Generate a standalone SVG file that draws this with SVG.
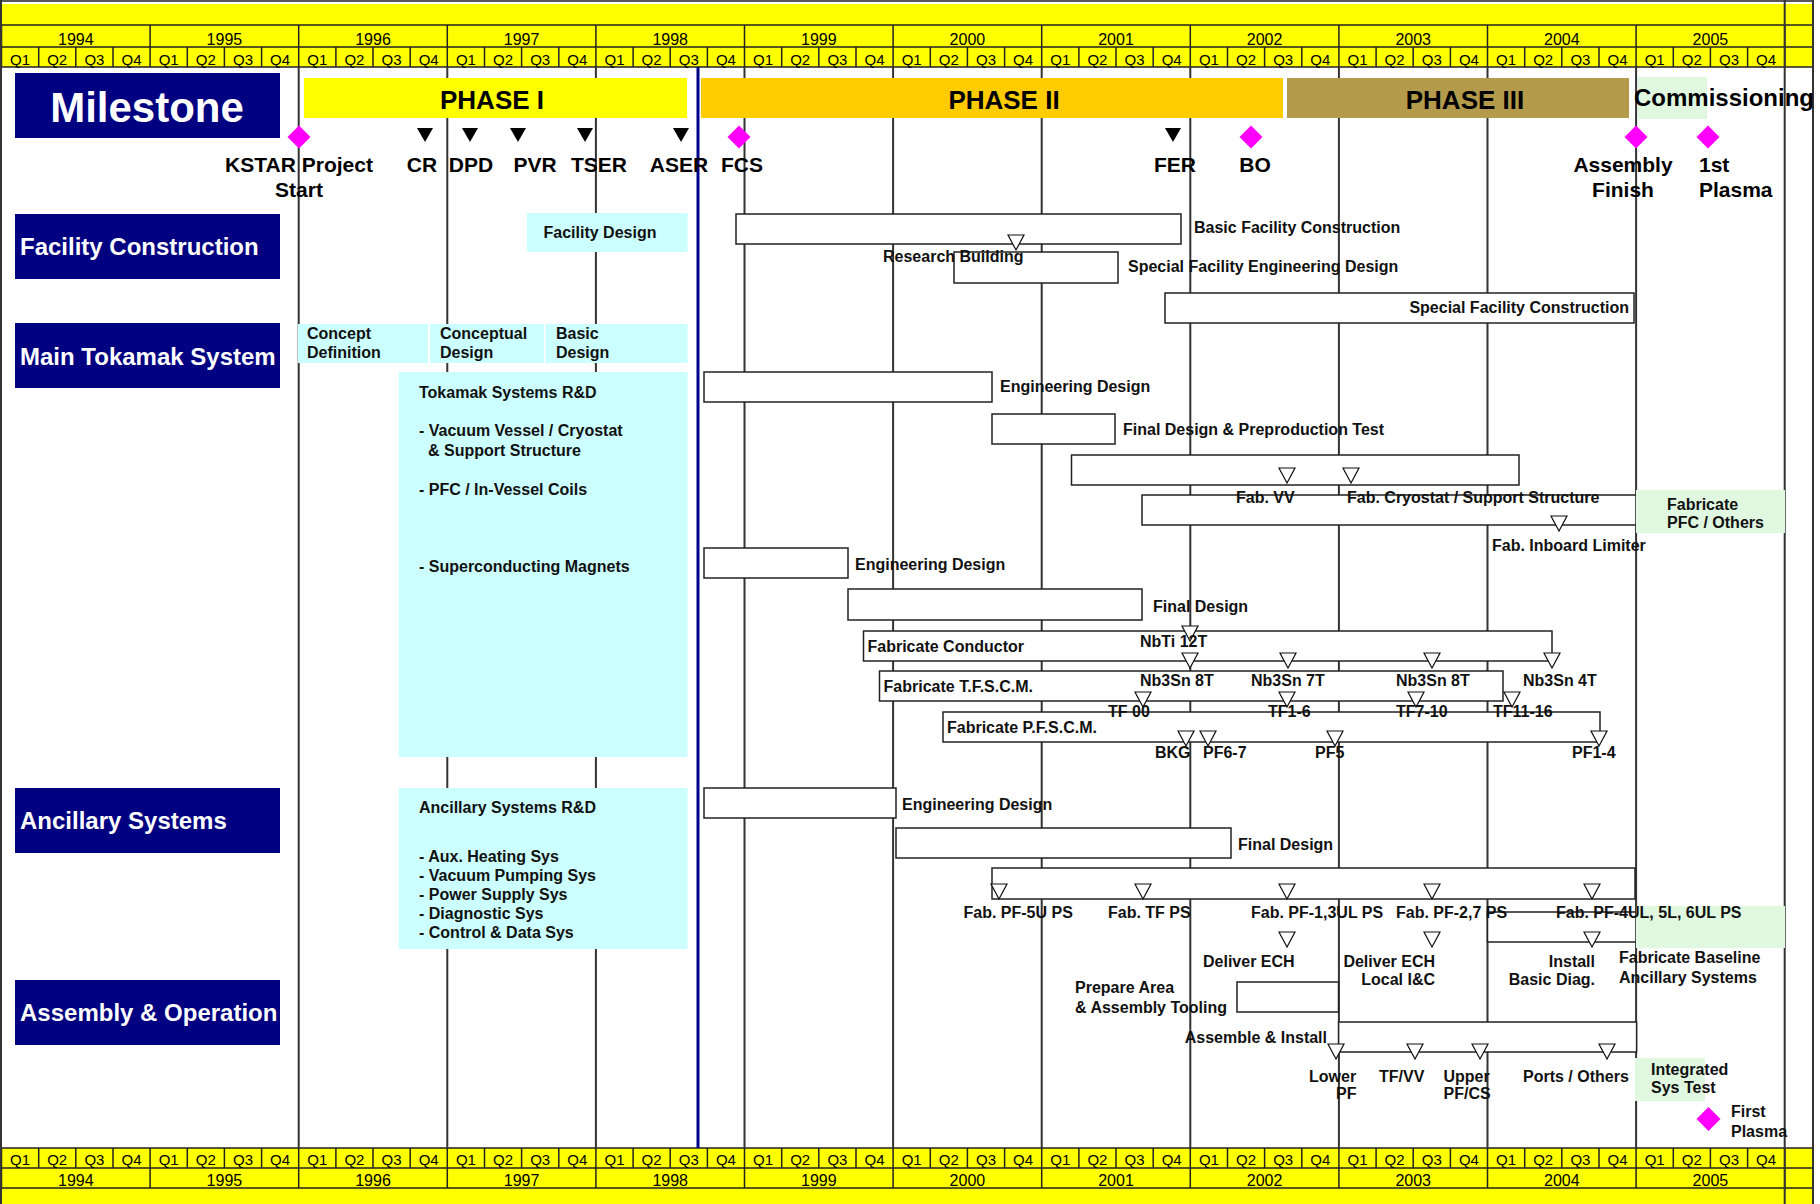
<svg xmlns="http://www.w3.org/2000/svg" width="1820" height="1204" viewBox="0 0 1820 1204">
<style>
text{font-family:"Liberation Sans",Arial,sans-serif;fill:#000}
.hq{font-size:15px;text-anchor:middle}
.hy{font-size:16px;text-anchor:middle}
.l{font-size:16px;font-weight:bold;fill:#111}
.e{text-anchor:end}
.mid{text-anchor:middle}
.ms{font-size:21px;font-weight:bold}
.cat{font-size:24px;font-weight:bold;fill:#fff}
.big{font-size:42px;font-weight:bold;fill:#fff;text-anchor:middle}
.ph{font-size:26px;font-weight:bold;text-anchor:middle}
.bar{fill:#fff;stroke:#222;stroke-width:1.5}
.cy{fill:#CCFFFF}
.gr{fill:#E0F8E0}
.nv{fill:#000080}
.tri{fill:#fff;stroke:#111;stroke-width:1.2}
.hl{stroke:#222;stroke-width:1.5;fill:none}
.grid{stroke:#333;stroke-width:2;fill:none}
</style>
<defs>
<path id="t" d="M-8,0H8L0,15Z" class="tri"/>
<path id="m" d="M-8,0H8L0,14Z" fill="#000"/>
<path id="d" d="M0,-11.5L11.5,0L0,11.5L-11.5,0Z" fill="#FF00FF"/>
</defs>
<rect width="1820" height="1204" fill="#fff"/>

<g id="header-top">
<rect x="0" y="4" width="1813" height="63" fill="#FFFF00"/>
<path class="hl" d="M0,1H1813M0,25H1813M0,47H1813M0,67H1813"/>
<path class="hl" d="M1.5,25v22M150.1,25v22M298.7,25v22M447.3,25v22M595.9,25v22M744.5,25v22M893.1,25v22M1041.7,25v22M1190.3,25v22M1338.9,25v22M1487.5,25v22M1636.1,25v22M1784.7,25v22"/>
<path class="hl" d="M1.5,47v20M38.7,47v20M75.8,47v20M113,47v20M150.1,47v20M187.3,47v20M224.4,47v20M261.6,47v20M298.7,47v20M335.9,47v20M373,47v20M410.2,47v20M447.3,47v20M484.5,47v20M521.6,47v20M558.8,47v20M595.9,47v20M633.1,47v20M670.2,47v20M707.4,47v20M744.5,47v20M781.7,47v20M818.8,47v20M856,47v20M893.1,47v20M930.3,47v20M967.4,47v20M1004.6,47v20M1041.7,47v20M1078.9,47v20M1116,47v20M1153.2,47v20M1190.3,47v20M1227.5,47v20M1264.6,47v20M1301.8,47v20M1338.9,47v20M1376.1,47v20M1413.2,47v20M1450.4,47v20M1487.5,47v20M1524.7,47v20M1561.8,47v20M1599,47v20M1636.1,47v20M1673.3,47v20M1710.4,47v20M1747.6,47v20M1784.7,47v20"/>
<text class="hy" x="75.8" y="45">1994</text><text class="hy" x="224.4" y="45">1995</text><text class="hy" x="373" y="45">1996</text><text class="hy" x="521.6" y="45">1997</text><text class="hy" x="670.2" y="45">1998</text><text class="hy" x="818.8" y="45">1999</text><text class="hy" x="967.4" y="45">2000</text><text class="hy" x="1116" y="45">2001</text><text class="hy" x="1264.6" y="45">2002</text><text class="hy" x="1413.2" y="45">2003</text><text class="hy" x="1561.8" y="45">2004</text><text class="hy" x="1710.4" y="45">2005</text>
<text class="hq" x="20.1" y="65">Q1</text><text class="hq" x="57.2" y="65">Q2</text><text class="hq" x="94.4" y="65">Q3</text><text class="hq" x="131.5" y="65">Q4</text>
<text class="hq" x="168.7" y="65">Q1</text><text class="hq" x="205.8" y="65">Q2</text><text class="hq" x="243" y="65">Q3</text><text class="hq" x="280.1" y="65">Q4</text>
<text class="hq" x="317.3" y="65">Q1</text><text class="hq" x="354.4" y="65">Q2</text><text class="hq" x="391.6" y="65">Q3</text><text class="hq" x="428.7" y="65">Q4</text>
<text class="hq" x="465.9" y="65">Q1</text><text class="hq" x="503" y="65">Q2</text><text class="hq" x="540.2" y="65">Q3</text><text class="hq" x="577.3" y="65">Q4</text>
<text class="hq" x="614.5" y="65">Q1</text><text class="hq" x="651.6" y="65">Q2</text><text class="hq" x="688.8" y="65">Q3</text><text class="hq" x="725.9" y="65">Q4</text>
<text class="hq" x="763.1" y="65">Q1</text><text class="hq" x="800.2" y="65">Q2</text><text class="hq" x="837.4" y="65">Q3</text><text class="hq" x="874.5" y="65">Q4</text>
<text class="hq" x="911.7" y="65">Q1</text><text class="hq" x="948.8" y="65">Q2</text><text class="hq" x="986" y="65">Q3</text><text class="hq" x="1023.1" y="65">Q4</text>
<text class="hq" x="1060.3" y="65">Q1</text><text class="hq" x="1097.4" y="65">Q2</text><text class="hq" x="1134.6" y="65">Q3</text><text class="hq" x="1171.7" y="65">Q4</text>
<text class="hq" x="1208.9" y="65">Q1</text><text class="hq" x="1246" y="65">Q2</text><text class="hq" x="1283.2" y="65">Q3</text><text class="hq" x="1320.3" y="65">Q4</text>
<text class="hq" x="1357.5" y="65">Q1</text><text class="hq" x="1394.6" y="65">Q2</text><text class="hq" x="1431.8" y="65">Q3</text><text class="hq" x="1468.9" y="65">Q4</text>
<text class="hq" x="1506.1" y="65">Q1</text><text class="hq" x="1543.2" y="65">Q2</text><text class="hq" x="1580.4" y="65">Q3</text><text class="hq" x="1617.5" y="65">Q4</text>
<text class="hq" x="1654.7" y="65">Q1</text><text class="hq" x="1691.8" y="65">Q2</text><text class="hq" x="1729" y="65">Q3</text><text class="hq" x="1766.1" y="65">Q4</text>
</g>

<g id="header-bottom">
<rect x="0" y="1148" width="1813" height="56" fill="#FFFF00"/>
<path class="hl" d="M0,1148H1813M0,1168H1813M0,1188H1813"/>
<path class="hl" d="M1.5,1168v20M150.1,1168v20M298.7,1168v20M447.3,1168v20M595.9,1168v20M744.5,1168v20M893.1,1168v20M1041.7,1168v20M1190.3,1168v20M1338.9,1168v20M1487.5,1168v20M1636.1,1168v20M1784.7,1168v20"/>
<path class="hl" d="M1.5,1148v20M38.7,1148v20M75.8,1148v20M113,1148v20M150.1,1148v20M187.3,1148v20M224.4,1148v20M261.6,1148v20M298.7,1148v20M335.9,1148v20M373,1148v20M410.2,1148v20M447.3,1148v20M484.5,1148v20M521.6,1148v20M558.8,1148v20M595.9,1148v20M633.1,1148v20M670.2,1148v20M707.4,1148v20M744.5,1148v20M781.7,1148v20M818.8,1148v20M856,1148v20M893.1,1148v20M930.3,1148v20M967.4,1148v20M1004.6,1148v20M1041.7,1148v20M1078.9,1148v20M1116,1148v20M1153.2,1148v20M1190.3,1148v20M1227.5,1148v20M1264.6,1148v20M1301.8,1148v20M1338.9,1148v20M1376.1,1148v20M1413.2,1148v20M1450.4,1148v20M1487.5,1148v20M1524.7,1148v20M1561.8,1148v20M1599,1148v20M1636.1,1148v20M1673.3,1148v20M1710.4,1148v20M1747.6,1148v20M1784.7,1148v20"/>
<text class="hq" x="20.1" y="1165">Q1</text><text class="hq" x="57.2" y="1165">Q2</text><text class="hq" x="94.4" y="1165">Q3</text><text class="hq" x="131.5" y="1165">Q4</text>
<text class="hq" x="168.7" y="1165">Q1</text><text class="hq" x="205.8" y="1165">Q2</text><text class="hq" x="243" y="1165">Q3</text><text class="hq" x="280.1" y="1165">Q4</text>
<text class="hq" x="317.3" y="1165">Q1</text><text class="hq" x="354.4" y="1165">Q2</text><text class="hq" x="391.6" y="1165">Q3</text><text class="hq" x="428.7" y="1165">Q4</text>
<text class="hq" x="465.9" y="1165">Q1</text><text class="hq" x="503" y="1165">Q2</text><text class="hq" x="540.2" y="1165">Q3</text><text class="hq" x="577.3" y="1165">Q4</text>
<text class="hq" x="614.5" y="1165">Q1</text><text class="hq" x="651.6" y="1165">Q2</text><text class="hq" x="688.8" y="1165">Q3</text><text class="hq" x="725.9" y="1165">Q4</text>
<text class="hq" x="763.1" y="1165">Q1</text><text class="hq" x="800.2" y="1165">Q2</text><text class="hq" x="837.4" y="1165">Q3</text><text class="hq" x="874.5" y="1165">Q4</text>
<text class="hq" x="911.7" y="1165">Q1</text><text class="hq" x="948.8" y="1165">Q2</text><text class="hq" x="986" y="1165">Q3</text><text class="hq" x="1023.1" y="1165">Q4</text>
<text class="hq" x="1060.3" y="1165">Q1</text><text class="hq" x="1097.4" y="1165">Q2</text><text class="hq" x="1134.6" y="1165">Q3</text><text class="hq" x="1171.7" y="1165">Q4</text>
<text class="hq" x="1208.9" y="1165">Q1</text><text class="hq" x="1246" y="1165">Q2</text><text class="hq" x="1283.2" y="1165">Q3</text><text class="hq" x="1320.3" y="1165">Q4</text>
<text class="hq" x="1357.5" y="1165">Q1</text><text class="hq" x="1394.6" y="1165">Q2</text><text class="hq" x="1431.8" y="1165">Q3</text><text class="hq" x="1468.9" y="1165">Q4</text>
<text class="hq" x="1506.1" y="1165">Q1</text><text class="hq" x="1543.2" y="1165">Q2</text><text class="hq" x="1580.4" y="1165">Q3</text><text class="hq" x="1617.5" y="1165">Q4</text>
<text class="hq" x="1654.7" y="1165">Q1</text><text class="hq" x="1691.8" y="1165">Q2</text><text class="hq" x="1729" y="1165">Q3</text><text class="hq" x="1766.1" y="1165">Q4</text>
<text class="hy" x="75.8" y="1186">1994</text><text class="hy" x="224.4" y="1186">1995</text><text class="hy" x="373" y="1186">1996</text><text class="hy" x="521.6" y="1186">1997</text><text class="hy" x="670.2" y="1186">1998</text><text class="hy" x="818.8" y="1186">1999</text><text class="hy" x="967.4" y="1186">2000</text><text class="hy" x="1116" y="1186">2001</text><text class="hy" x="1264.6" y="1186">2002</text><text class="hy" x="1413.2" y="1186">2003</text><text class="hy" x="1561.8" y="1186">2004</text><text class="hy" x="1710.4" y="1186">2005</text>
</g>

<g id="gridlines">
<path class="grid" d="M298.7,67V1148M447.3,67V1148M595.9,67V1148M744.5,67V1148M893.1,67V1148M1041.7,67V1148M1190.3,67V1148M1338.9,67V1148M1487.5,67V1148M1636.1,67V1148M1784.7,0V1204M1,0V1204M1813,0V1204"/>
<path d="M698,67V1148" stroke="#00008B" stroke-width="3"/>
</g>

<g id="cat-milestone"><rect class="nv" x="15" y="73" width="265" height="65"/><text class="big" x="147" y="122">Milestone</text></g>
<g id="cat-facility"><rect class="nv" x="15" y="214" width="265" height="65"/><text class="cat" x="20" y="255">Facility Construction</text></g>
<g id="cat-tokamak"><rect class="nv" x="15" y="323" width="265" height="65"/><text class="cat" x="20" y="365">Main Tokamak System</text></g>
<g id="cat-ancillary"><rect class="nv" x="15" y="788" width="265" height="65"/><text class="cat" x="20" y="829">Ancillary Systems</text></g>
<g id="cat-assembly"><rect class="nv" x="15" y="980" width="265" height="65"/><text class="cat" x="20" y="1021">Assembly &amp; Operation</text></g>

<g id="phase1"><rect x="304" y="78" width="383" height="40" fill="#FFFF00"/><text class="ph" x="492" y="109">PHASE I</text></g>
<g id="phase2"><rect x="701" y="78" width="582" height="40" fill="#FFCC00"/><text class="ph" x="1004" y="109">PHASE II</text></g>
<g id="phase3"><rect x="1287" y="78" width="342" height="40" fill="#B39B4B"/><text class="ph" x="1465" y="109">PHASE III</text></g>
<g id="commissioning"><rect class="gr" x="1638" y="77" width="69" height="42"/><text x="1634" y="106" font-size="24" font-weight="bold">Commissioning</text></g>

<g id="ms-kstar"><use href="#d" x="299" y="137"/><text class="ms mid" x="299" y="172">KSTAR Project</text><text class="ms mid" x="299" y="197">Start</text></g>
<g id="ms-cr"><use href="#m" x="425" y="128"/><text class="ms mid" x="422" y="172">CR</text></g>
<g id="ms-dpd"><use href="#m" x="470" y="128"/><text class="ms mid" x="471" y="172">DPD</text></g>
<g id="ms-pvr"><use href="#m" x="518" y="128"/><text class="ms mid" x="535" y="172">PVR</text></g>
<g id="ms-tser"><use href="#m" x="585" y="128"/><text class="ms mid" x="599" y="172">TSER</text></g>
<g id="ms-aser"><use href="#m" x="681" y="128"/><text class="ms mid" x="679" y="172">ASER</text></g>
<g id="ms-fcs"><use href="#d" x="739" y="137"/><text class="ms mid" x="742" y="172">FCS</text></g>
<g id="ms-fer"><use href="#m" x="1173" y="128"/><text class="ms mid" x="1175" y="172">FER</text></g>
<g id="ms-bo"><use href="#d" x="1251" y="137"/><text class="ms mid" x="1255" y="172">BO</text></g>
<g id="ms-asm"><use href="#d" x="1636" y="137"/><text class="ms mid" x="1623" y="172">Assembly</text><text class="ms mid" x="1623" y="197">Finish</text></g>
<g id="ms-plasma"><use href="#d" x="1708" y="137"/><text class="ms" x="1699" y="172">1st</text><text class="ms" x="1699" y="197">Plasma</text></g>

<g id="facility-design"><rect class="cy" x="527" y="213" width="160.5" height="39"/><text class="l" x="600" y="238" text-anchor="middle">Facility Design</text></g>
<g id="special-fac-eng"><rect class="bar" x="954" y="252" width="164" height="31"/><text class="l" x="1128" y="272">Special Facility Engineering Design</text></g>
<g id="basic-fac"><rect class="bar" x="736" y="214" width="445" height="30"/><use href="#t" x="1016" y="235"/><text class="l" x="1194" y="233">Basic Facility Construction</text><text class="l" x="883" y="262">Research Building</text></g>
<g id="special-fac-con"><rect class="bar" x="1165" y="293" width="469" height="30"/><text class="l e" x="1629" y="313">Special Facility Construction</text></g>

<g id="concept-def"><rect class="cy" x="298" y="324" width="130" height="39"/><text class="l" x="307" y="339">Concept</text><text class="l" x="307" y="358">Definition</text></g>
<g id="conceptual-design"><rect class="cy" x="430" y="324" width="114" height="39"/><text class="l" x="440" y="339">Conceptual</text><text class="l" x="440" y="358">Design</text></g>
<g id="basic-design"><rect class="cy" x="545.5" y="324" width="142" height="39"/><text class="l" x="556" y="339">Basic</text><text class="l" x="556" y="358">Design</text></g>
<g id="tokamak-rd"><rect class="cy" x="398.7" y="372" width="288.8" height="385"/>
<text class="l" x="419" y="398">Tokamak Systems R&amp;D</text>
<text class="l" x="419" y="436">- Vacuum Vessel / Cryostat</text>
<text class="l" x="428" y="456">&amp; Support Structure</text>
<text class="l" x="419" y="495">- PFC / In-Vessel Coils</text>
<text class="l" x="419" y="572">- Superconducting Magnets</text></g>

<g id="vv-eng"><rect class="bar" x="704" y="372" width="288" height="30"/><text class="l" x="1000" y="392">Engineering Design</text></g>
<g id="vv-final"><rect class="bar" x="992" y="414" width="123" height="30"/><text class="l" x="1123" y="435">Final Design &amp; Preproduction Test</text></g>
<g id="fab-cryo"><rect class="bar" x="1142" y="495" width="494" height="30"/><use href="#t" x="1559" y="516"/><text class="l" x="1492" y="551">Fab. Inboard Limiter</text></g>
<g id="fab-vv"><rect class="bar" x="1071.5" y="455" width="447.5" height="30"/><use href="#t" x="1287" y="468"/><use href="#t" x="1351" y="468"/><text class="l" x="1236" y="503">Fab. VV</text><text class="l" x="1347" y="503">Fab. Cryostat / Support Structure</text></g>
<g id="fab-pfc"><rect class="gr" x="1636" y="490" width="149" height="43"/><text class="l" x="1667" y="510">Fabricate</text><text class="l" x="1667" y="528">PFC / Others</text></g>

<g id="sc-eng"><rect class="bar" x="704" y="548" width="144" height="30"/><text class="l" x="855" y="570">Engineering Design</text></g>
<g id="sc-final"><rect class="bar" x="848" y="589" width="294" height="31"/><text class="l" x="1153" y="612">Final Design</text></g>
<g id="fab-pfscm"><rect class="bar" x="943" y="712" width="657" height="30"/><use href="#t" x="1186" y="731"/><use href="#t" x="1208" y="731"/><use href="#t" x="1335" y="731"/><use href="#t" x="1599" y="731"/><text class="l" x="947" y="733">Fabricate P.F.S.C.M.</text><text class="l" x="1155" y="758">BKG</text><text class="l" x="1203" y="758">PF6-7</text><text class="l" x="1315" y="758">PF5</text><text class="l" x="1572" y="758">PF1-4</text></g>
<g id="fab-tfscm"><rect class="bar" x="879.5" y="671" width="623.5" height="30"/><use href="#t" x="1143" y="692"/><use href="#t" x="1287" y="692"/><use href="#t" x="1416" y="692"/><use href="#t" x="1512" y="692"/><text class="l" x="883.6" y="692">Fabricate T.F.S.C.M.</text><text class="l" x="1108" y="717">TF 00</text><text class="l" x="1268" y="717">TF1-6</text><text class="l" x="1396" y="717">TF7-10</text><text class="l" x="1493" y="717">TF11-16</text></g>
<g id="fab-conductor"><rect class="bar" x="863.5" y="631" width="688.5" height="30"/><use href="#t" x="1190" y="626"/><use href="#t" x="1190" y="653"/><use href="#t" x="1288" y="653"/><use href="#t" x="1432" y="653"/><use href="#t" x="1552" y="653"/><text class="l" x="867.5" y="652">Fabricate Conductor</text><text class="l" x="1140" y="647">NbTi 12T</text><text class="l" x="1140" y="686">Nb3Sn 8T</text><text class="l" x="1251" y="686">Nb3Sn 7T</text><text class="l" x="1396" y="686">Nb3Sn 8T</text><text class="l" x="1523" y="686">Nb3Sn 4T</text></g>

<g id="ancillary-rd"><rect class="cy" x="398.7" y="788" width="288.8" height="161"/>
<text class="l" x="419" y="813">Ancillary Systems R&amp;D</text>
<text class="l" x="419" y="862">- Aux. Heating Sys</text>
<text class="l" x="419" y="881">- Vacuum Pumping Sys</text>
<text class="l" x="419" y="900">- Power Supply Sys</text>
<text class="l" x="419" y="919">- Diagnostic Sys</text>
<text class="l" x="419" y="938">- Control &amp; Data Sys</text></g>
<g id="anc-eng"><rect class="bar" x="704" y="788" width="192" height="30"/><text class="l" x="902" y="810">Engineering Design</text></g>
<g id="anc-final"><rect class="bar" x="896" y="828" width="335" height="30"/><text class="l" x="1238" y="850">Final Design</text></g>
<g id="install-diag"><rect class="bar" x="1487.5" y="912" width="148.5" height="30"/><use href="#t" x="1592" y="932"/><text class="l e" x="1595" y="967">Install</text><text class="l e" x="1595" y="985">Basic Diag.</text></g>
<g id="fab-baseline"><rect class="gr" x="1636" y="906" width="149" height="42"/><text class="l" x="1619" y="963">Fabricate Baseline</text><text class="l" x="1619" y="983">Ancillary Systems</text></g>
<g id="fab-ps"><rect class="bar" x="992" y="868" width="643" height="31"/><use href="#t" x="999" y="884"/><use href="#t" x="1143" y="884"/><use href="#t" x="1287" y="884"/><use href="#t" x="1432" y="884"/><use href="#t" x="1592" y="884"/><text class="l" x="963.5" y="918">Fab. PF-5U PS</text><text class="l" x="1108" y="918">Fab. TF PS</text><text class="l" x="1251" y="918">Fab. PF-1,3UL PS</text><text class="l" x="1396" y="918">Fab. PF-2,7 PS</text><text class="l" x="1556" y="918">Fab. PF-4UL, 5L, 6UL PS</text></g>
<g id="deliver-ech"><use href="#t" x="1287" y="932"/><text class="l" x="1203" y="967">Deliver ECH</text></g>
<g id="deliver-ech-ic"><use href="#t" x="1432" y="932"/><text class="l e" x="1435" y="967">Deliver ECH</text><text class="l e" x="1435" y="985">Local I&amp;C</text></g>

<g id="prepare-area"><rect class="bar" x="1237" y="982" width="101.5" height="30"/><text class="l" x="1075" y="993">Prepare Area</text><text class="l" x="1075" y="1013">&amp; Assembly Tooling</text></g>
<g id="assemble-install"><rect class="bar" x="1338.6" y="1022" width="298" height="30"/><use href="#t" x="1336" y="1044"/><use href="#t" x="1415" y="1044"/><use href="#t" x="1480" y="1044"/><use href="#t" x="1607" y="1044"/><text class="l e" x="1327" y="1043">Assemble &amp; Install</text><text class="l" x="1309" y="1082">Lower</text><text class="l" x="1336" y="1099">PF</text><text class="l" x="1379" y="1082">TF/VV</text><text class="l" x="1443.5" y="1082">Upper</text><text class="l" x="1443.5" y="1099">PF/CS</text><text class="l" x="1523" y="1082">Ports / Others</text></g>
<g id="integrated-test"><rect class="gr" x="1635" y="1058" width="70" height="43"/><text class="l" x="1651" y="1075">Integrated</text><text class="l" x="1651" y="1093">Sys Test</text></g>
<g id="first-plasma"><path d="M1708.5,1107L1720.5,1119L1708.5,1131L1696.5,1119Z" fill="#FF00FF"/><text class="l" x="1731" y="1117">First</text><text class="l" x="1731" y="1137">Plasma</text></g>
</svg>
